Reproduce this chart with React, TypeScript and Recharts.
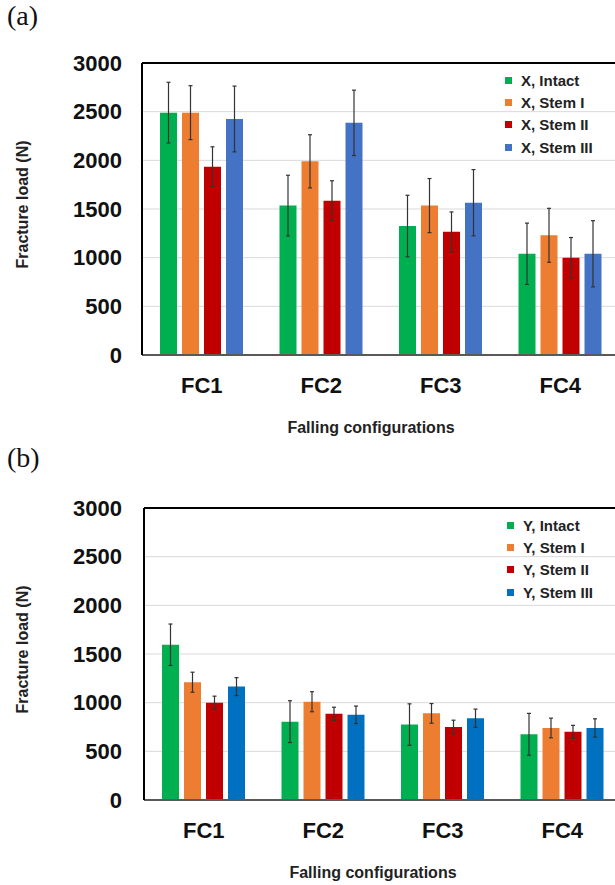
import React from "react";
import { BarChart, Bar, XAxis, YAxis, CartesianGrid, ErrorBar, Legend, ReferenceLine } from "recharts";

const categories = ["FC1", "FC2", "FC3", "FC4"];
const yTicks = [0, 500, 1000, 1500, 2000, 2500, 3000];

// (a) loading along X
const xNames = ["X, Intact", "X, Stem I", "X, Stem II", "X, Stem III"];
const xIntact = [2490, 1535, 1325, 1040];
const xStemI = [2490, 1990, 1535, 1230];
const xStemII = [1935, 1585, 1265, 1000];
const xStemIII = [2425, 2385, 1565, 1040];
const xIntactErr = [312, 312, 316, 315];
const xStemIErr = [277, 273, 278, 277];
const xStemIIErr = [204, 205, 205, 207];
const xStemIIIErr = [338, 336, 340, 340];

// (b) loading along Y
const yNames = ["Y, Intact", "Y, Stem I", "Y, Stem II", "Y, Stem III"];
const yIntact = [1595, 805, 775, 675];
const yStemI = [1210, 1010, 890, 740];
const yStemII = [1000, 885, 750, 700];
const yStemIII = [1165, 875, 840, 740];
const yIntactErr = [213, 215, 213, 215];
const yStemIErr = [103, 103, 101, 101];
const yStemIIErr = [67, 68, 70, 67];
const yStemIIIErr = [92, 90, 94, 94];

const colorsA = ["#00B050", "#ED7D31", "#C00000", "#4472C4"];
const colorsB = ["#00B050", "#ED7D31", "#C00000", "#0070C0"];

const FONT = '"Liberation Sans", Arial, sans-serif';
const keys = ["s0", "s1", "s2", "s3"];

function buildData(series: number[][], errors: number[][]) {
  return categories.map((name, i) => {
    const row: any = { name };
    keys.forEach((k, j) => {
      row[k] = series[j][i];
      row[k + "Err"] = errors[j][i];
    });
    return row;
  });
}

const dataA = buildData([xIntact, xStemI, xStemII, xStemIII], [xIntactErr, xStemIErr, xStemIIErr, xStemIIIErr]);
const dataB = buildData([yIntact, yStemI, yStemII, yStemIII], [yIntactErr, yStemIErr, yStemIIErr, yStemIIIErr]);

const renderLegend = (props: any) => (
  <div style={{ fontFamily: FONT, fontSize: 15, fontWeight: 700, color: "#222" }}>
    {(props.payload || []).map((p: any) => (
      <div key={p.value} style={{ display: "flex", alignItems: "center", height: 22.3 }}>
        <span style={{ display: "inline-block", width: 7, height: 7, background: p.color, marginRight: 9 }} />
        <span>{p.value}</span>
      </div>
    ))}
  </div>
);

function Panel({ data, names, colors, top, left, tickGap, titleX }: any) {
  const yTitle = (props: any) => {
    const vb = props.viewBox || { y: 63, height: 292 };
    const cy = vb.y + vb.height / 2 - 4.5;
    return (
      <text transform={`translate(${titleX}, ${cy}) rotate(-90)`} textAnchor="middle"
        style={{ fontFamily: FONT, fontSize: 16, fontWeight: 700, fill: "#222" }}>
        Fracture load (N)
      </text>
    );
  };
  const xTitle = (props: any) => {
    const vb = props.viewBox || { x: 142, y: 355 };
    return (
      <text x={vb.x + 229} y={vb.y + 77.5} textAnchor="middle"
        style={{ fontFamily: FONT, fontSize: 16, fontWeight: 700, fill: "#222" }}>
        Falling configurations
      </text>
    );
  };
  return (
    <BarChart width={640} height={440} data={data} barGap={5}
      margin={{ top: 63, right: 20, bottom: 5, left: 0 }}
      style={{ position: "absolute", top, left, fontFamily: FONT }}>
      <CartesianGrid horizontal vertical={false} stroke="#D9D9D9" />
      <XAxis dataKey="name" height={80} tickLine={false} tickSize={0} tickMargin={22}
        axisLine={{ stroke: "#595959", strokeWidth: 2 }}
        tick={{ fontSize: 22, fontWeight: 700, fill: "#111", fontFamily: FONT }}
        label={xTitle} />
      <YAxis width={142} domain={[0, 3000]} ticks={yTicks} interval={0} tickLine={false}
        tickSize={0} tickMargin={tickGap} axisLine={{ stroke: "#000", strokeWidth: 2 }}
        tick={{ fontSize: 22, fontWeight: 700, fill: "#111", fontFamily: FONT }}
        label={yTitle} />
      <ReferenceLine y={3000} stroke="#000" strokeWidth={2} />
      {keys.map((k, j) => (
        <Bar key={k} dataKey={k} name={names[j]} fill={colors[j]} barSize={17} isAnimationActive={false}>
          <ErrorBar dataKey={k + "Err"} width={2} stroke="#333" strokeWidth={1.2} isAnimationActive={false} />
        </Bar>
      ))}
      <Legend layout="vertical" align="center" verticalAlign="middle" content={renderLegend}
        wrapperStyle={{ left: 505, top: 69, width: 130 }} />
    </BarChart>
  );
}

export default function App() {
  const panelLabel = { position: "absolute" as const, left: 7, fontFamily: '"Liberation Serif", "Times New Roman", serif', fontSize: 28, lineHeight: "28px", color: "#111" };
  return (
    <div style={{ position: "absolute", left: 0, top: 0, width: 615, height: 885, overflow: "hidden", background: "#fff" }}>
      <div style={{ ...panelLabel, top: 1.5 }}>(a)</div>
      <div style={{ ...panelLabel, top: 443.5 }}>(b)</div>
      <Panel data={dataA} names={xNames} colors={colorsA} top={0} left={0} tickGap={20} titleX={28} />
      <Panel data={dataB} names={yNames} colors={colorsB} top={445} left={2} tickGap={22} titleX={26} />
    </div>
  );
}
